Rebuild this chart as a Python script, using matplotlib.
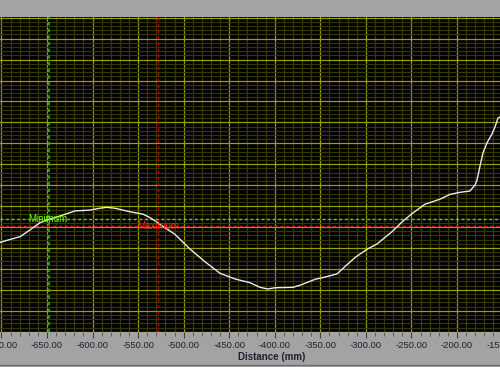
import matplotlib
matplotlib.use("Agg")
import matplotlib.pyplot as plt
from matplotlib.lines import Line2D
from matplotlib.ticker import MultipleLocator, FormatStrFormatter

# profile, distance in mm, height in grid divisions
distance = [-701.6, -679.6, -668.7, -657.7, -646.7, -635.7, -619.3, -602.8,
            -591.8, -584.5, -575.4, -558.9, -544.3, -537.0, -531.5, -526.0,
            -520.5, -509.5, -493.1, -476.6, -460.1, -443.7, -427.2, -416.2,
            -407.5, -399.8, -380.0, -372.3, -355.9, -344.9, -331.7, -323.0,
            -312.0, -298.8, -287.8, -271.3, -260.4, -249.4, -235.1, -218.7,
            -207.7, -196.7, -185.8, -180.2, -178.0, -174.7, -171.5, -167.1,
            -161.6, -158.3, -155.0, -152.8]
height = [4.27, 4.54, 4.86, 5.21, 5.38, 5.53, 5.77, 5.81,
          5.90, 5.94, 5.90, 5.73, 5.61, 5.45, 5.30, 5.13,
          4.97, 4.65, 3.95, 3.34, 2.79, 2.52, 2.34, 2.12,
          2.04, 2.10, 2.12, 2.22, 2.50, 2.61, 2.76, 3.11,
          3.54, 3.94, 4.19, 4.78, 5.24, 5.64, 6.09, 6.33,
          6.56, 6.66, 6.72, 7.01, 7.25, 7.92, 8.54, 9.02,
          9.45, 9.78, 10.21, 10.26]

# cursors
min_cursor_x = -647.3
min_cursor_y = 5.37
max_cursor_x = -528.2
max_cursor_y = 5.04

# label of the tick just past the right edge, still shown half cut
edge_tick = -150.0

GREY = "#a3a3a3"
FONT = "Liberation Sans"

fig = plt.figure(figsize=(5, 3.67), dpi=100, facecolor=GREY)
ax = fig.add_axes([0, 0.0962, 1, 0.8583])
ax.set_facecolor("black")
ax.set_xlim(-701.6, -152.8)
ax.set_ylim(0, 15.05)

# grid
ax.xaxis.set_major_locator(MultipleLocator(50))
ax.xaxis.set_minor_locator(MultipleLocator(10))
ax.yaxis.set_major_locator(MultipleLocator(1))
ax.yaxis.set_minor_locator(MultipleLocator(0.2))
ax.grid(which="major", color="#9c9c00", linewidth=0.9)
ax.grid(which="minor", color="#363600", linewidth=0.9)
ax.set_axisbelow(True)

ax.xaxis.set_major_formatter(FormatStrFormatter("%.2f"))
ax.tick_params(axis="x", which="major", length=4, width=0.8, color="#404040",
               pad=2.5, labelsize=6.8, labelcolor="#202030")
ax.tick_params(axis="x", which="minor", length=3, width=0.6, color="#505050")
ax.tick_params(axis="y", which="both", left=False, labelleft=False)
for lab in ax.get_xticklabels():
    lab.set_fontfamily(FONT)
for s in ax.spines.values():
    s.set_visible(False)
ax.text(edge_tick, -0.64, "%.2f" % edge_tick, ha="center", va="center",
        fontsize=6.8, family=FONT, color="#202030", clip_on=False)

# cursor lines
ax.axvline(min_cursor_x, color="#3cb000", linewidth=1.2, linestyle=(0, (2.0, 2.0)))
ax.axhline(min_cursor_y, color="#70d000", linewidth=1.0, linestyle=(0, (2.0, 2.0)))
ax.axvline(max_cursor_x, color="#c80000", linewidth=1.0, linestyle=(0, (2.0, 2.4)))
ax.axhline(max_cursor_y, color="#e02000", linewidth=1.0, linestyle=(0, (2.2, 2.0)))
ax.text(-671.0, min_cursor_y, "Minimum", color="#66ff00", fontsize=7,
        family=FONT, va="center", ha="left")
ax.text(-551.2, max_cursor_y, "Maximum", color="#ff2200", fontsize=7,
        family=FONT, va="center", ha="left")

# profile
ax.plot(distance, height, color="#ececec", linewidth=1.0)

fig.text(0.543, 0.027, "Distance (mm)", ha="center", va="center", fontsize=7,
         fontweight="bold", family=FONT, color="#202030")
fig.add_artist(Line2D([0, 1], [0.006, 0.006], color="#707070", linewidth=1.0))

fig.savefig("out.png", dpi=100, facecolor=GREY)
